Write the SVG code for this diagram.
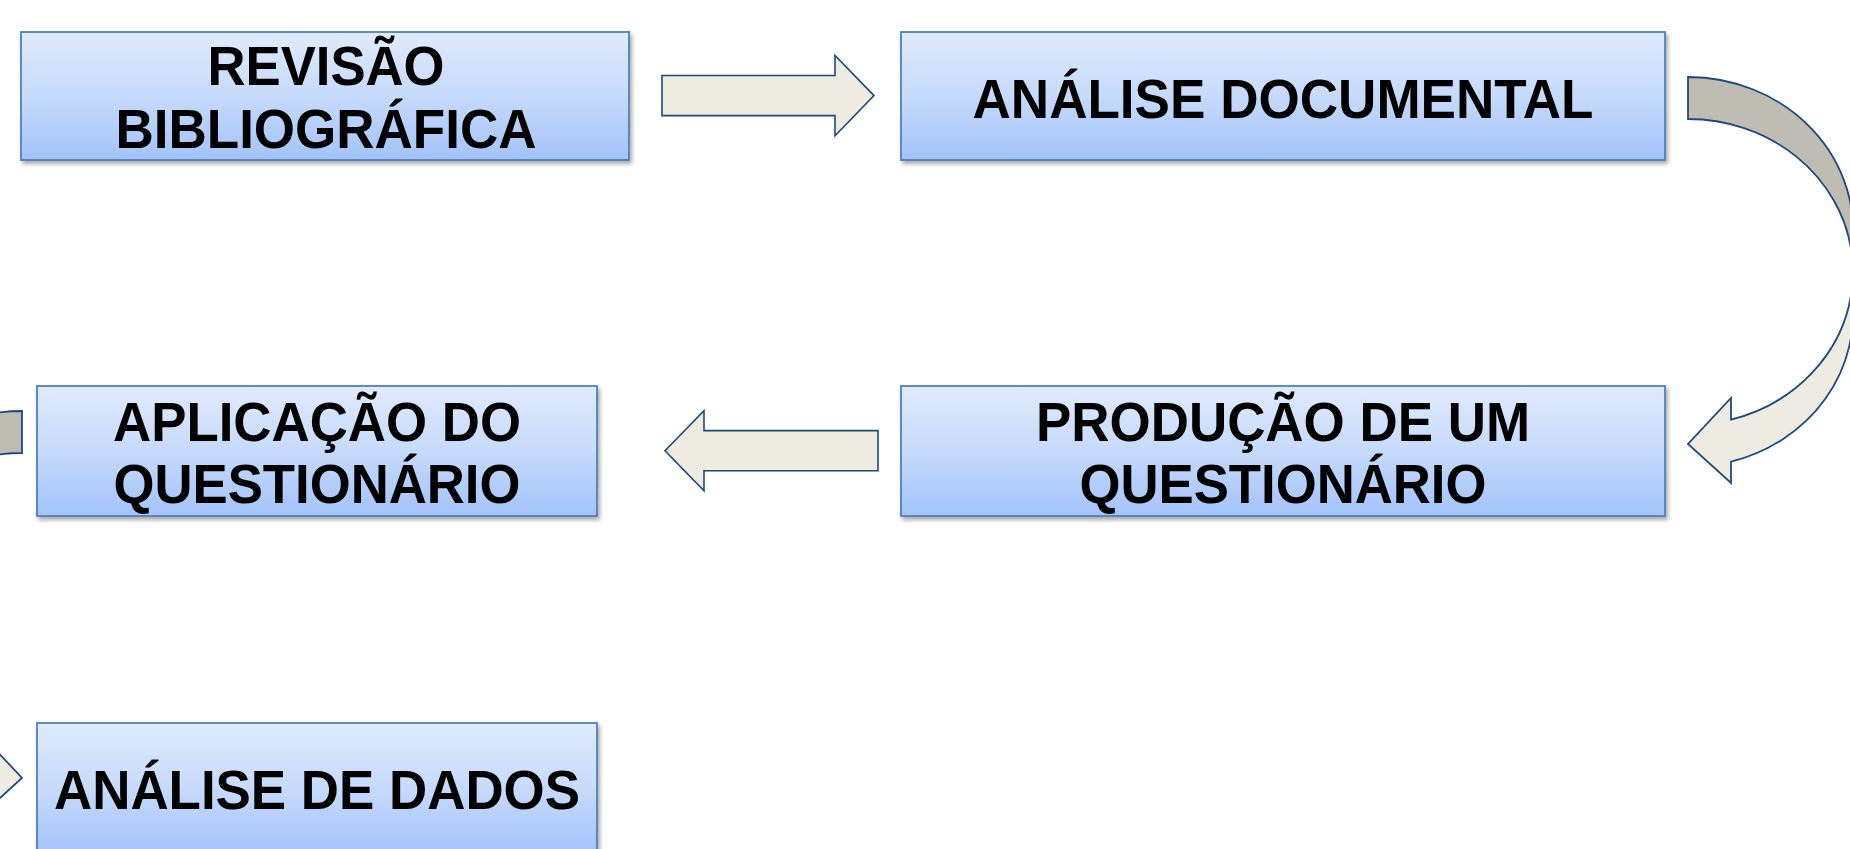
<svg xmlns="http://www.w3.org/2000/svg" xmlns:xlink="http://www.w3.org/1999/xlink" width="1850" height="849" viewBox="0 0 1850 849">
<defs>
<linearGradient id="boxGrad" x1="0" y1="0" x2="0" y2="1">
<stop offset="0" stop-color="#E0EBFD"/>
<stop offset="0.5" stop-color="#C6DAFB"/>
<stop offset="1" stop-color="#A3C3FA"/>
</linearGradient>
<filter id="shadow" x="-5%" y="-10%" width="112%" height="130%">
<feDropShadow dx="2" dy="3" stdDeviation="2" flood-color="#000" flood-opacity="0.35"/>
</filter>
<g id="curved">
<path d="M1688,77 A165,153 0 0 1 1851.4,251 A165,153 0 0 0 1688,119 Z" fill="#BFBCB2" stroke="#1F497D" stroke-width="1.8" stroke-linejoin="miter"/>
<path d="M1851.4,293 A165,153 0 0 1 1731,461.7 L1731,483 L1688,444 L1731,398 L1731,419.7 A165,153 0 0 0 1851.4,293 Z" fill="#EEECE1" stroke="#1F497D" stroke-width="1.8" stroke-linejoin="miter"/>
</g>
</defs>
<style>
.box { fill: url(#boxGrad); stroke: #4F81BD; stroke-width: 1.8; filter: url(#shadow); }
.lbl { font-family: "Liberation Sans", Arial, sans-serif; font-weight: bold; font-size: 56px; fill: #000; text-anchor: middle; }
.arr { fill: #EEECE1; stroke: #1F497D; stroke-width: 1.6; stroke-linejoin: miter; }
</style>
<rect width="1850" height="849" fill="#FFFFFF"/>
<g id="connectors">
<path class="arr" d="M662,75.5 L835,75.5 L835,55.5 L874,95.6 L835,135.7 L835,115.6 L662,115.6 Z"/>
<use xlink:href="#curved"/>
<path class="arr" d="M878,430.6 L704,430.6 L704,410.6 L665,450.7 L704,490.8 L704,470.7 L878,470.7 Z"/>
<use xlink:href="#curved" transform="translate(1710,334) scale(-1,1)"/>
</g>
<g id="node-revisao">
<rect class="box" x="21" y="32" width="608" height="128"/>
<text class="lbl" x="326" y="85" textLength="237" lengthAdjust="spacingAndGlyphs">REVISÃO</text>
<text class="lbl" x="326" y="147.5" textLength="421" lengthAdjust="spacingAndGlyphs">BIBLIOGRÁFICA</text>
</g>
<g id="node-analise-documental">
<rect class="box" x="901" y="32" width="764" height="128"/>
<text class="lbl" x="1283" y="118" textLength="621" lengthAdjust="spacingAndGlyphs">ANÁLISE DOCUMENTAL</text>
</g>
<g id="node-producao">
<rect class="box" x="901" y="386" width="764" height="130"/>
<text class="lbl" x="1283" y="441" textLength="494" lengthAdjust="spacingAndGlyphs">PRODUÇÃO DE UM</text>
<text class="lbl" x="1283" y="503" textLength="407" lengthAdjust="spacingAndGlyphs">QUESTIONÁRIO</text>
</g>
<g id="node-aplicacao">
<rect class="box" x="37" y="386" width="560" height="130"/>
<text class="lbl" x="317" y="441" textLength="408" lengthAdjust="spacingAndGlyphs">APLICAÇÃO DO</text>
<text class="lbl" x="317" y="503" textLength="407" lengthAdjust="spacingAndGlyphs">QUESTIONÁRIO</text>
</g>
<g id="node-analise-dados">
<rect class="box" x="37" y="723" width="560" height="132"/>
<text class="lbl" x="317" y="809" textLength="526" lengthAdjust="spacingAndGlyphs">ANÁLISE DE DADOS</text>
</g>
</svg>
